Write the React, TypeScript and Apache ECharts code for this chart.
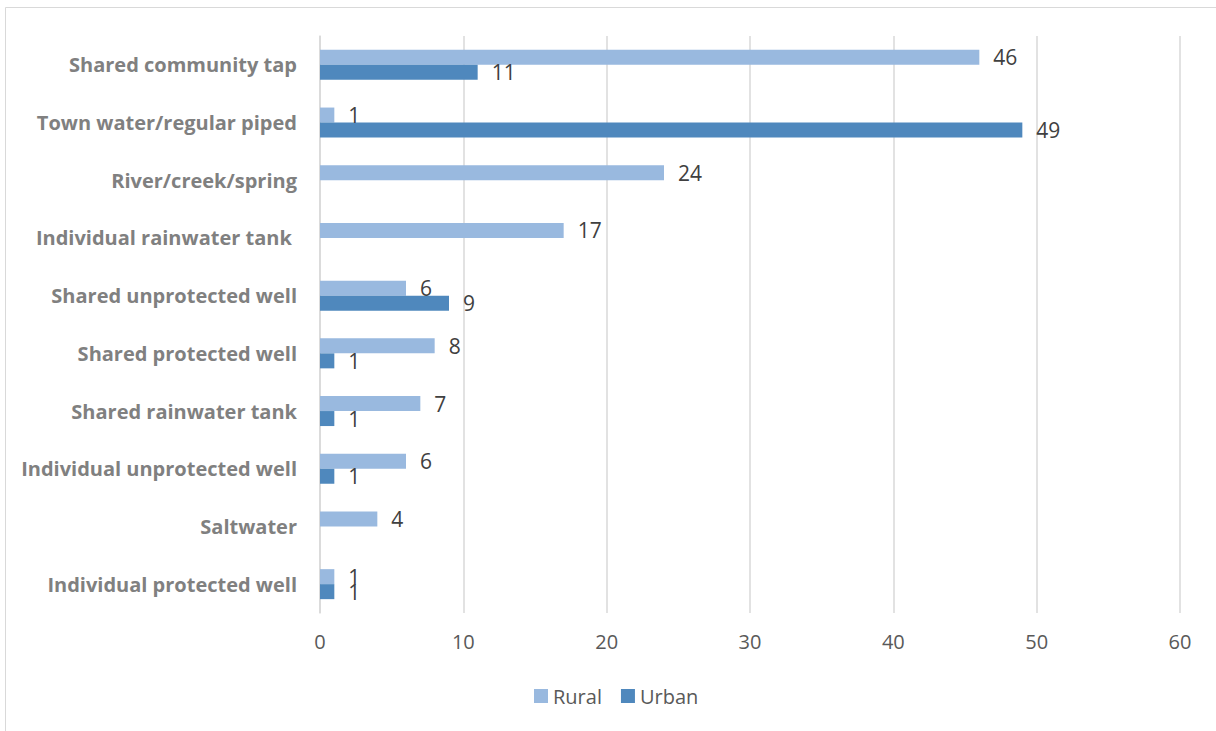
import React, { useEffect, useRef } from "react";
import * as echarts from "echarts";

const categories = [
  "Shared community tap",
  "Town water/regular piped",
  "River/creek/spring",
  "Individual rainwater tank ",
  "Shared unprotected well",
  "Shared protected well",
  "Shared rainwater tank",
  "Individual unprotected well",
  "Saltwater",
  "Individual protected well",
];
const rural = [46, 1, 24, 17, 6, 8, 7, 6, 4, 1];
const urban = [11, 49, null, null, 9, 1, 1, 1, null, 1];
const xTicks = { min: 0, max: 60, interval: 10 };

const FONT = "'Open Sans', 'Noto Sans', sans-serif";

export default function App() {
  const ref = useRef<HTMLDivElement>(null);
  useEffect(() => {
    if (!ref.current) return;
    const chart = echarts.init(ref.current, undefined, { renderer: "svg" });
    const valueLabel = {
      show: true,
      position: "right" as const,
      distance: 14,
      fontSize: 21,
      color: "#404040",
      fontFamily: FONT,
    };
    chart.setOption({
      animation: false,
      backgroundColor: "#ffffff",
      textStyle: { fontFamily: FONT },
      graphic: [
        {
          type: "rect",
          shape: { x: 5.5, y: 7.5, width: 1260, height: 800 },
          style: { fill: "none", stroke: "#d9d9d9", lineWidth: 1 },
          silent: true,
        },
      ],
      grid: { left: 320, right: 36, top: 36, bottom: 118, containLabel: false },
      legend: {
        left: 529,
        top: 681,
        itemWidth: 14,
        itemHeight: 14,
        itemGap: 19,
        icon: "rect",
        textStyle: { fontSize: 20, color: "#595959", fontFamily: FONT },
        data: ["Rural", "Urban"],
      },
      xAxis: {
        type: "value",
        min: xTicks.min,
        max: xTicks.max,
        interval: xTicks.interval,
        axisLine: { show: false },
        axisTick: { show: false },
        splitLine: { show: true, lineStyle: { color: "#d9d9d9", width: 1.5 } },
        axisLabel: { fontSize: 20, color: "#595959", margin: 18, fontFamily: FONT },
      },
      yAxis: {
        type: "category",
        inverse: true,
        data: categories,
        axisLine: { show: true, lineStyle: { color: "#d9d9d9", width: 1.5 } },
        axisTick: { show: false },
        axisLabel: {
          fontSize: 20,
          fontWeight: "bold",
          color: "#808080",
          margin: 23,
          fontFamily: FONT,
        },
      },
      series: [
        {
          name: "Rural",
          type: "bar",
          data: rural,
          barGap: "0%",
          barCategoryGap: "48%",
          itemStyle: { color: "#99b9df" },
          label: valueLabel,
        },
        {
          name: "Urban",
          type: "bar",
          data: urban,
          barGap: "0%",
          barCategoryGap: "48%",
          itemStyle: { color: "#4f88bd" },
          label: valueLabel,
        },
      ],
    });
    return () => chart.dispose();
  }, []);
  return (
    <div
      ref={ref}
      style={{ position: "fixed", left: 0, top: 0, width: 1216, height: 731 }}
    />
  );
}
